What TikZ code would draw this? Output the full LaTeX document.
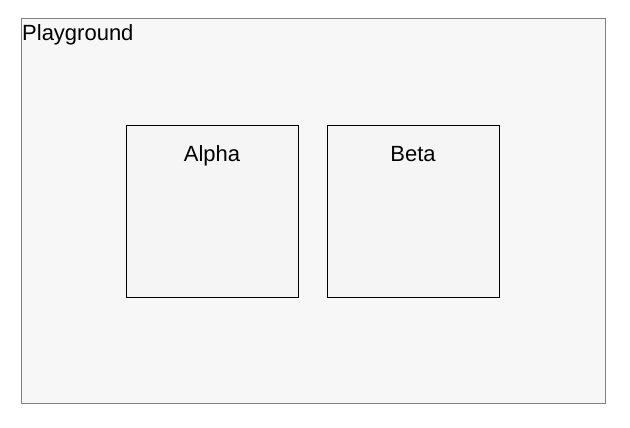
\documentclass[tikz,border=0pt]{standalone}
\usepackage{fontspec}
\setmainfont{Liberation Sans}
\begin{document}
\begin{tikzpicture}[x=1pt,y=-1pt,
  frame/.style={draw=black!50, fill=black!3, line width=1pt, anchor=north west, inner sep=0pt, minimum width=584pt, minimum height=384pt},
  box/.style={draw=black, fill=black!4, line width=1.3pt, anchor=north west, inner sep=0pt, minimum width=171.5pt, minimum height=171.5pt},
  lbl/.style={font=\fontsize{22}{24}\selectfont, inner sep=0pt}]
\useasboundingbox (0,0) rectangle (630,428);
\node[frame] (pg) at (20.5,18.5) {};
\node[lbl, anchor=base west] (pgl) at (22,41) {Playground};
\node[box] (alpha) at (126,125) {};
\node[box] (beta) at (327,125) {};
\node[lbl, anchor=base] (al) at (212,161) {Alpha};
\node[lbl, anchor=base] (bl) at (413,161) {Beta};
\end{tikzpicture}
\end{document}
